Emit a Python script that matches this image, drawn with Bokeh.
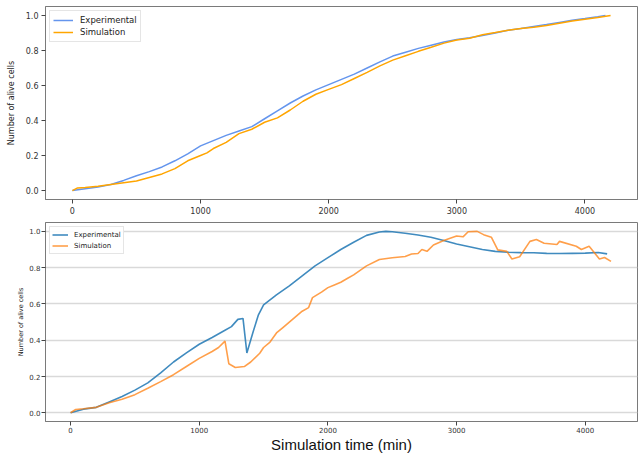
from bokeh.plotting import figure
from bokeh.layouts import column
from bokeh.models import Range1d, FixedTicker, PrintfTickFormatter
from bokeh.embed import file_html
from bokeh.resources import INLINE

# ---- Top panel data ----
top_exp_t = [0, 100, 200, 300, 400, 500, 600, 700, 800, 900, 1000, 1100, 1200, 1300,
             1400, 1500, 1600, 1700, 1800, 1900, 2000, 2100, 2200, 2300, 2400, 2500,
             2600, 2700, 2800, 2900, 3000, 3100, 3200, 3300, 3400, 3500, 3600, 3700,
             3800, 3900, 4000, 4100, 4160]
top_exp_v = [0.0, 0.01, 0.02, 0.035, 0.058, 0.085, 0.108, 0.135, 0.17, 0.21, 0.255, 0.285,
             0.315, 0.34, 0.365, 0.41, 0.455, 0.5, 0.54, 0.575, 0.605, 0.635, 0.665, 0.7,
             0.735, 0.768, 0.79, 0.812, 0.83, 0.848, 0.862, 0.872, 0.885, 0.9, 0.915,
             0.925, 0.937, 0.948, 0.96, 0.972, 0.982, 0.993, 1.0]
top_sim_t = [0, 40, 100, 200, 300, 400, 500, 600, 700, 800, 900, 1000, 1050, 1100, 1200,
             1300, 1400, 1500, 1600, 1700, 1800, 1900, 2000, 2100, 2200, 2300, 2400, 2500,
             2600, 2700, 2800, 2900, 3000, 3100, 3200, 3300, 3400, 3500, 3600, 3700, 3800,
             3900, 4000, 4100, 4200]
top_sim_v = [0.0, 0.015, 0.018, 0.025, 0.035, 0.045, 0.055, 0.075, 0.095, 0.125, 0.17, 0.2,
             0.215, 0.24, 0.275, 0.325, 0.35, 0.39, 0.415, 0.46, 0.51, 0.55, 0.578, 0.605,
             0.64, 0.675, 0.712, 0.745, 0.77, 0.795, 0.818, 0.842, 0.86, 0.87, 0.89, 0.902,
             0.915, 0.925, 0.932, 0.942, 0.955, 0.968, 0.978, 0.988, 1.0]

# ---- Bottom panel data ----
bot_exp_t = [0, 100, 200, 300, 400, 500, 600, 700, 800, 900, 1000, 1100, 1200, 1250, 1300,
             1340, 1370, 1420, 1460, 1500, 1600, 1700, 1800, 1900, 2000, 2100, 2200, 2300,
             2400, 2450, 2500, 2600, 2700, 2800, 2900, 3000, 3100, 3200, 3300, 3400, 3500,
             3600, 3700, 3800, 3900, 4000, 4100, 4170]
bot_exp_v = [0.0, 0.02, 0.03, 0.06, 0.09, 0.125, 0.165, 0.22, 0.28, 0.33, 0.378, 0.415,
             0.455, 0.475, 0.515, 0.52, 0.33, 0.45, 0.54, 0.595, 0.65, 0.7, 0.755, 0.81,
             0.855, 0.9, 0.94, 0.978, 0.997, 1.0, 0.998, 0.99, 0.98, 0.968, 0.95, 0.93,
             0.915, 0.9, 0.89, 0.885, 0.883, 0.882, 0.879, 0.878, 0.879, 0.88, 0.884, 0.876]
bot_sim_t = [0, 40, 100, 200, 300, 400, 500, 600, 700, 800, 900, 1000, 1100, 1150, 1200,
             1230, 1280, 1350, 1400, 1470, 1500, 1550, 1600, 1650, 1700, 1750, 1800, 1850,
             1880, 1950, 2000, 2050, 2100, 2150, 2200, 2300, 2400, 2500, 2600, 2650, 2700,
             2730, 2770, 2820, 2900, 3000, 3050, 3090, 3160, 3210, 3270, 3320, 3390, 3430,
             3490, 3570, 3620, 3680, 3780, 3800, 3930, 3970, 4030, 4110, 4150, 4200]
bot_sim_v = [0.0, 0.018, 0.022, 0.03, 0.055, 0.075, 0.1, 0.135, 0.172, 0.21, 0.255, 0.3,
             0.338, 0.36, 0.395, 0.27, 0.25, 0.255, 0.28, 0.328, 0.36, 0.39, 0.44, 0.47,
             0.5, 0.53, 0.56, 0.58, 0.635, 0.665, 0.69, 0.705, 0.72, 0.74, 0.76, 0.81,
             0.845, 0.855, 0.862, 0.875, 0.878, 0.9, 0.89, 0.925, 0.95, 0.975, 0.97, 0.998,
             1.0, 0.982, 0.968, 0.898, 0.89, 0.848, 0.86, 0.945, 0.955, 0.935, 0.928, 0.945,
             0.918, 0.9, 0.918, 0.848, 0.856, 0.835]

y_ticks = [0.0, 0.2, 0.4, 0.6, 0.8, 1.0]
x_ticks = [0, 1000, 2000, 3000, 4000]
y_label = "Number of alive cells"
x_label = "Simulation time (min)"

FONT = "DejaVu Sans"
FRAME = "#7a7a7a"


def style(p, tick_size, ylab_size, ylab_standoff):
    p.xaxis.ticker = FixedTicker(ticks=x_ticks)
    p.yaxis.ticker = FixedTicker(ticks=y_ticks)
    p.yaxis.formatter = PrintfTickFormatter(format="%.1f")
    for ax in (p.xaxis, p.yaxis):
        ax.axis_line_color = FRAME
        ax.major_tick_line_color = "#444444"
        ax.minor_tick_line_color = None
        ax.major_tick_in = 0
        ax.major_tick_out = 4
        ax.major_label_text_font = FONT
        ax.major_label_text_font_size = tick_size
        ax.major_label_text_color = "#333333"
        ax.major_label_standoff = 3
    p.yaxis.axis_label = y_label
    p.yaxis.axis_label_text_font = FONT
    p.yaxis.axis_label_text_font_size = ylab_size
    p.yaxis.axis_label_text_font_style = "normal"
    p.yaxis.axis_label_text_color = "#222222"
    p.yaxis.axis_label_standoff = ylab_standoff
    p.outline_line_color = FRAME
    p.outline_line_width = 1
    p.xgrid.grid_line_color = None


# ---- top figure ----
p1 = figure(width=639, height=217, output_backend="svg", toolbar_location=None,
            x_range=Range1d(-210, 4410), y_range=Range1d(-0.051, 1.051),
            min_border_left=45, min_border_right=2, min_border_top=6, min_border_bottom=18)
p1.line(top_exp_t, top_exp_v, line_color="#6495ED", line_width=1.5, legend_label="Experimental")
p1.line(top_sim_t, top_sim_v, line_color="#FFA500", line_width=1.5, legend_label="Simulation")
style(p1, "8px", "8px", 7)
p1.ygrid.grid_line_color = None
lg = p1.legend[0]
lg.location = "top_left"
lg.margin = 4
lg.padding = 3
lg.spacing = 0
lg.glyph_width = 20
lg.glyph_height = 12
lg.label_height = 12
lg.label_standoff = 7
lg.label_text_font = FONT
lg.label_text_font_size = "8.5px"
lg.label_text_color = "#222222"
lg.border_line_color = "#cccccc"
lg.background_fill_alpha = 0.9

# ---- bottom figure ----
p2 = figure(width=639, height=238, output_backend="svg", toolbar_location=None,
            x_range=Range1d(-195, 4406), y_range=Range1d(-0.048, 1.049),
            min_border_left=40, min_border_right=1, min_border_top=5, min_border_bottom=33)
p2.line(bot_exp_t, bot_exp_v, line_color="#1f77b4", line_width=1.6, line_alpha=0.85,
        legend_label="Experimental")
p2.line(bot_sim_t, bot_sim_v, line_color="#ff7f0e", line_width=1.6, line_alpha=0.75,
        legend_label="Simulation")
style(p2, "7px", "6.5px", 1)
p2.ygrid.grid_line_color = "#d9d9d9"
p2.ygrid.grid_line_width = 1.5
p2.xaxis.axis_label = x_label
p2.xaxis.axis_label_text_font = "Liberation Sans"
p2.xaxis.axis_label_text_font_size = "15px"
p2.xaxis.axis_label_text_font_style = "normal"
p2.xaxis.axis_label_text_color = "#111111"
p2.xaxis.axis_label_standoff = 0
p2.xaxis.major_label_standoff = 1
p2.yaxis.major_label_standoff = 1
lg2 = p2.legend[0]
lg2.location = "top_left"
lg2.margin = 4
lg2.padding = 2
lg2.spacing = 0
lg2.glyph_width = 16
lg2.glyph_height = 11
lg2.label_height = 11
lg2.label_standoff = 6
lg2.label_text_font = FONT
lg2.label_text_font_size = "7px"
lg2.label_text_color = "#222222"
lg2.border_line_color = "#cccccc"
lg2.background_fill_alpha = 0.9

layout = column(p1, p2, spacing=0)
open("out.html", "w").write(file_html(layout, INLINE))
